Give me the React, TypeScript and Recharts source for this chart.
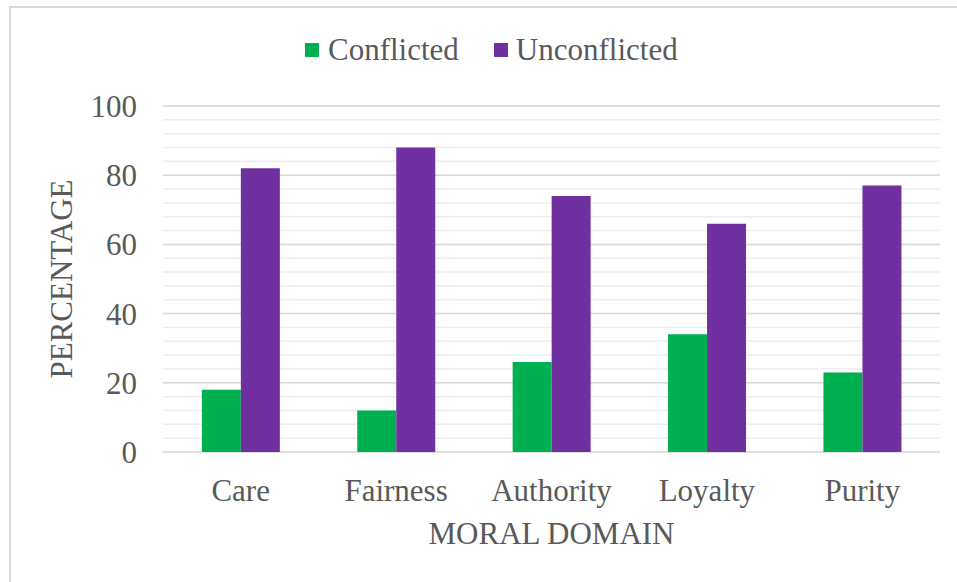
import React from 'react';
import { BarChart, Bar, XAxis, YAxis, CartesianGrid, Legend } from 'recharts';

const categories = ['Care', 'Fairness', 'Authority', 'Loyalty', 'Purity'];
const conflicted = [18, 12, 26, 34, 23];
const unconflicted = [82, 88, 74, 66, 77];
const majorTicks = [0, 20, 40, 60, 80, 100];
const minorTicks = [0, 4, 8, 12, 16, 20, 24, 28, 32, 36, 40, 44, 48, 52, 56, 60, 64, 68, 72, 76, 80, 84, 88, 92, 96, 100];
const yDomain = [0, 100];

const data = categories.map((c, i) => ({ name: c, Conflicted: conflicted[i], Unconflicted: unconflicted[i] }));

const FONT = '"Liberation Serif", "Times New Roman", serif';
const TEXT = '#595959';
const GREEN = '#00b050';
const PURPLE = '#7030a0';

const LegendContent = () => (
  <div style={{ display: 'flex', alignItems: 'center', fontFamily: FONT, fontSize: 31, color: TEXT, whiteSpace: 'nowrap' }}>
    <span style={{ display: 'inline-block', width: 14, height: 14, background: GREEN, marginRight: 9 }} />
    <span>Conflicted</span>
    <span style={{ display: 'inline-block', width: 14, height: 14, background: PURPLE, marginLeft: 35, marginRight: 8 }} />
    <span>Unconflicted</span>
  </div>
);

const minorGen = (args: any) => {
  const scale = args?.yAxis?.scale;
  const off = args?.offset;
  return minorTicks.map((t) => {
    if (typeof scale === 'function') return scale(t);
    if (scale && typeof scale.map === 'function') return scale.map(t);
    if (off) return off.top + off.height * (1 - (t - yDomain[0]) / (yDomain[1] - yDomain[0]));
    return 0;
  });
};

export default function App() {
  return (
    <div style={{ position: 'fixed', left: 0, top: 0, width: 957, height: 582, overflow: 'hidden', background: '#fff' }}>
      <div style={{ position: 'absolute', left: 9, top: 6, width: 980, height: 620, border: '2px solid #d9d9d9', boxSizing: 'border-box' }} />
      <div style={{ position: 'absolute', left: 0, top: 0 }}>
        <BarChart
          width={957}
          height={582}
          data={data}
          margin={{ top: 106, right: 17, left: 0, bottom: 0 }}
          barCategoryGap="25%"
          barGap={0}
        >
          <CartesianGrid vertical={false} stroke="#ededed" strokeWidth={1.5} horizontalCoordinatesGenerator={minorGen} syncWithTicks={false} />
          <CartesianGrid vertical={false} stroke="#d9d9d9" strokeWidth={1.5} />
          <XAxis
            dataKey="name"
            height={130}
            axisLine={false}
            tickLine={false}
            tickSize={0}
            tickMargin={27}
            interval={0}
            tick={{ fill: TEXT, fontSize: 31, fontFamily: FONT }}
            label={{
              content: (props: any) => {
                const vb = props.viewBox || {};
                return (
                  <text x={vb.x + vb.width / 2} y={vb.y + 92} textAnchor="middle" fill={TEXT} fontSize={31} fontFamily={FONT}>
                    MORAL DOMAIN
                  </text>
                );
              },
            }}
          />
          <YAxis
            width={163}
            domain={yDomain}
            ticks={majorTicks}
            axisLine={false}
            tickLine={false}
            tickSize={0}
            tickMargin={26}
            tick={{ fill: TEXT, fontSize: 31, fontFamily: FONT }}
            label={{
              content: (props: any) => {
                const vb = props.viewBox || {};
                const cx = 61;
                const cy = vb.y + vb.height / 2;
                return (
                  <text x={cx} y={cy} transform={`rotate(-90, ${cx}, ${cy})`} textAnchor="middle" dominantBaseline="central" fill={TEXT} fontSize={31} fontFamily={FONT}>
                    PERCENTAGE
                  </text>
                );
              },
            }}
          />
          <Legend
            layout="horizontal"
            verticalAlign="middle"
            align="center"
            content={<LegendContent />}
            wrapperStyle={{ left: 305, top: 32, width: 'auto' }}
          />
          <Bar dataKey="Conflicted" fill={GREEN} isAnimationActive={false} />
          <Bar dataKey="Unconflicted" fill={PURPLE} isAnimationActive={false} />
        </BarChart>
      </div>
    </div>
  );
}
